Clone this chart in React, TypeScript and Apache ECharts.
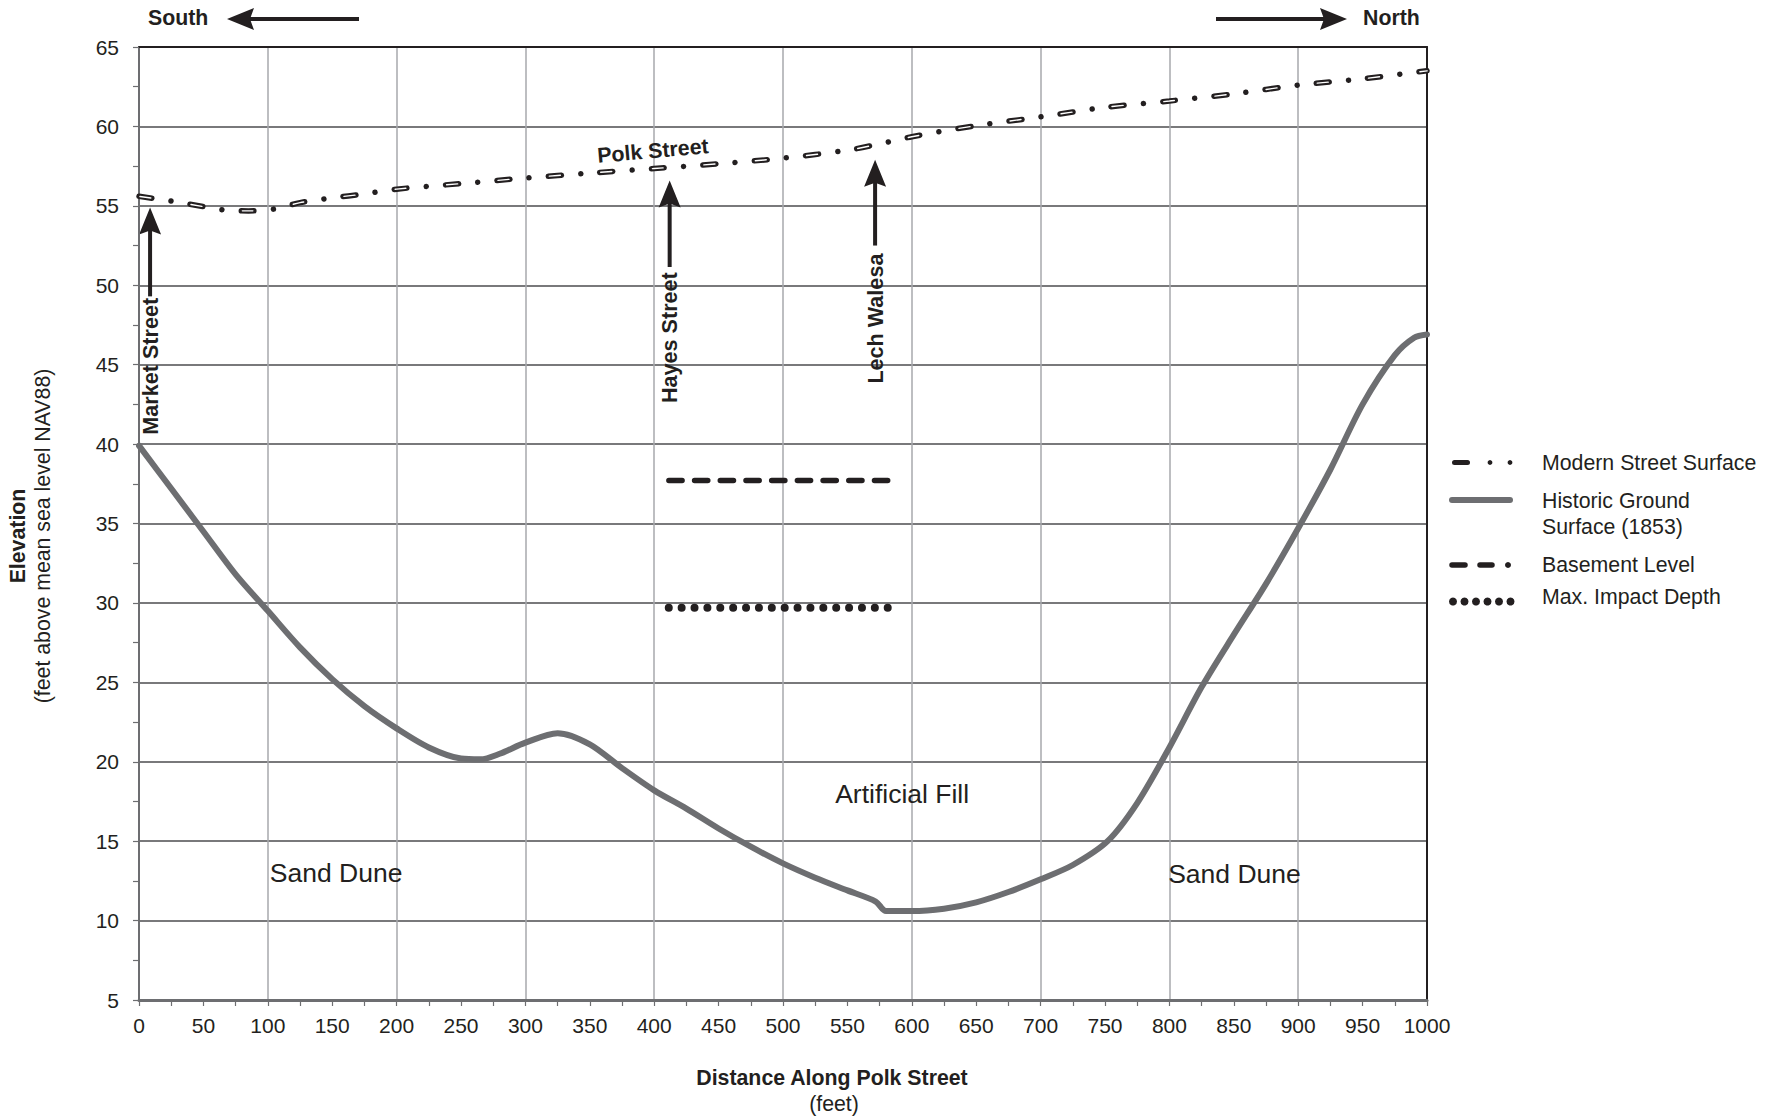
import React, { useEffect, useRef } from 'react';
import * as echarts from 'echarts';

// ---------- data ----------
const historicX = [0, 25, 50, 75, 100, 125, 150, 175, 200, 225, 250, 265, 280, 300, 325, 350, 375, 400, 425, 450, 475, 500, 525, 550, 572, 580, 600, 625, 650, 675, 700, 725, 752, 775, 800, 825, 850, 875, 900, 925, 950, 975, 990, 1000];
const historicY = [39.9, 37.2, 34.5, 31.8, 29.5, 27.2, 25.2, 23.5, 22.1, 20.9, 20.2, 20.15, 20.5, 21.2, 21.8, 21.1, 19.6, 18.2, 17.05, 15.8, 14.65, 13.6, 12.7, 11.9, 11.2, 10.6, 10.6, 10.75, 11.15, 11.8, 12.6, 13.5, 15.0, 17.4, 20.9, 24.7, 28.0, 31.2, 34.7, 38.4, 42.5, 45.6, 46.7, 46.9];

const streetX = [0, 25, 50, 65, 85, 105, 125, 150, 175, 200, 250, 300, 350, 400, 450, 500, 550, 575, 600, 650, 700, 750, 800, 850, 900, 950, 1000];
const streetY = [55.6, 55.3, 54.95, 54.75, 54.68, 54.8, 55.2, 55.5, 55.75, 56.05, 56.4, 56.75, 57.06, 57.35, 57.65, 58.0, 58.5, 58.9, 59.35, 60.05, 60.6, 61.2, 61.6, 62.05, 62.6, 63.0, 63.5];

const basementX = [411.4, 581.5];
const basementLevel = 37.7;
const impactX = [411.3, 581.4];
const impactDepth = 29.7;

const crossStreets = ['Market Street', 'Hayes Street', 'Lech Walesa'];
const crossStreetX = [8.6, 412, 571.5];
const arrowTipY = [54.9, 56.6, 57.9];
const arrowBaseY = [49.3, 51.15, 52.5];
const crossLabelY = [44.9, 46.7, 47.9];

const regionLabels = ['Sand Dune', 'Artificial Fill', 'Sand Dune'];
const regionX = [153, 592.5, 850.5];
const regionY = [13.0, 18.0, 12.95];

const streetLabel = 'Polk Street';
const streetLabelPos = [399, 58.45];

const legendLabels = ['Modern Street Surface', 'Historic Ground\nSurface (1853)', 'Basement Level', 'Max. Impact Depth'];

const FONT = '"Liberation Sans", Arial, Helvetica, sans-serif';
const INK = '#231f20';
const GROUND = '#6d6e71';
const FS = 21.3;

function upArrow(x: number, yTip: number, yBase: number) {
  return [
    { type: 'line', shape: { x1: x, y1: yTip + 20, x2: x, y2: yBase }, style: { stroke: INK, lineWidth: 4 } },
    { type: 'polygon', shape: { points: [[x, yTip], [x - 11, yTip + 27], [x, yTip + 23], [x + 11, yTip + 27]] }, style: { fill: INK } },
  ];
}

function hArrow(xTail: number, xTip: number, y: number) {
  const d = xTip > xTail ? 1 : -1;
  return [
    { type: 'line', shape: { x1: xTail, y1: y, x2: xTip - d * 20, y2: y }, style: { stroke: INK, lineWidth: 4 } },
    { type: 'polygon', shape: { points: [[xTip, y], [xTip - d * 27, y - 11], [xTip - d * 23, y], [xTip - d * 27, y + 11]] }, style: { fill: INK } },
  ];
}

function txt(x: number, y: number, text: string, size: number, bold: boolean, rotation = 0, align = 'center', lineHeight?: number) {
  return {
    type: 'text',
    x,
    y,
    rotation,
    style: {
      text,
      fontFamily: FONT,
      fontSize: size,
      fontWeight: bold ? 'bold' : 'normal',
      fill: INK,
      align,
      verticalAlign: 'middle',
      lineHeight: lineHeight || size * 1.2,
    },
  };
}

export default function App() {
  const ref = useRef<HTMLDivElement>(null);

  useEffect(() => {
    if (!ref.current) return;
    const chart = echarts.init(ref.current, undefined, { renderer: 'svg' });

    const tickStyle = { color: GROUND, width: 1.2 };
    const option: any = {
      animation: false,
      backgroundColor: '#ffffff',
      textStyle: { fontFamily: FONT, color: INK },
      grid: { left: 139, top: 47, width: 1288, height: 953, containLabel: false },
      xAxis: [
        {
          type: 'value', min: 0, max: 1000, interval: 50, position: 'bottom',
          axisLine: { show: true, onZero: false, lineStyle: { color: GROUND, width: 3 } },
          axisTick: { show: true, length: 6, lineStyle: tickStyle },
          minorTick: { show: true, splitNumber: 2, length: 6, lineStyle: tickStyle },
          axisLabel: { fontSize: 21, color: INK, margin: 15, fontFamily: FONT, formatter: (v: number) => String(v) },
          splitLine: { show: false },
          minorSplitLine: { show: false },
        },
        {
          type: 'value', min: 0, max: 1000, interval: 100, position: 'top',
          axisLine: { show: true, onZero: false, lineStyle: { color: INK, width: 2 } },
          axisTick: { show: false },
          axisLabel: { show: false },
          splitLine: { show: true, lineStyle: { color: '#a7a9ac', width: 1.5 } },
        },
      ],
      yAxis: [
        {
          type: 'value', min: 5, max: 65, interval: 5, position: 'left',
          axisLine: { show: true, onZero: false, lineStyle: { color: GROUND, width: 2 } },
          axisTick: { show: true, length: 6, lineStyle: tickStyle },
          minorTick: { show: true, splitNumber: 2, length: 6, lineStyle: tickStyle },
          axisLabel: { fontSize: 21, color: INK, margin: 20, fontFamily: FONT, formatter: (v: number) => String(v) },
          splitLine: { show: true, lineStyle: { color: '#4d4d4f', width: 1.5 } },
        },
        {
          type: 'value', min: 5, max: 65, interval: 5, position: 'right',
          axisLine: { show: true, onZero: false, lineStyle: { color: INK, width: 2 } },
          axisTick: { show: false },
          axisLabel: { show: false },
          splitLine: { show: false },
        },
      ],
      series: [
        {
          name: 'Historic Ground Surface (1853)', type: 'line', silent: true,
          data: historicX.map((x, i) => [x, historicY[i]]),
          smooth: 0.3, symbol: 'none', z: 3,
          lineStyle: { color: GROUND, width: 6, cap: 'round', join: 'round' },
        },
        {
          name: 'Modern Street Surface', type: 'line', silent: true,
          data: streetX.map((x, i) => [x, streetY[i]]),
          smooth: 0.3, symbol: 'none', z: 4,
          lineStyle: { color: INK, width: 5.5, type: [13, 19.3, 0.01, 19.3], cap: 'round' },
        },
        {
          name: 'Modern Street Surface inner', type: 'line', silent: true,
          data: streetX.map((x, i) => [x, streetY[i]]),
          smooth: 0.3, symbol: 'none', z: 5,
          lineStyle: { color: '#ffffff', width: 1.4, type: [11, 40.61], dashOffset: -1, cap: 'round' },
        },
        {
          name: 'Basement Level', type: 'line', silent: true,
          data: basementX.map((x) => [x, basementLevel]),
          symbol: 'none', z: 4,
          lineStyle: { color: INK, width: 5.5, type: [13.2, 12.5], cap: 'round' },
        },
        {
          name: 'Max. Impact Depth', type: 'line', silent: true,
          data: impactX.map((x) => [x, impactDepth]),
          symbol: 'none', z: 4,
          lineStyle: { color: INK, width: 8, type: [0.01, 12.87], cap: 'round' },
        },
      ],
    };
    chart.setOption(option);

    const P = (x: number, y: number) => chart.convertToPixel({ xAxisIndex: 0, yAxisIndex: 0 }, [x, y]) as number[];

    const g: any[] = [];
    // cross street arrows & labels
    crossStreets.forEach((name, i) => {
      const tip = P(crossStreetX[i], arrowTipY[i]);
      const base = P(crossStreetX[i], arrowBaseY[i]);
      g.push(...upArrow(tip[0], tip[1], base[1]));
      const lp = P(crossStreetX[i], crossLabelY[i]);
      g.push(txt(lp[0], lp[1], name, 21.6, true, Math.PI / 2));
    });
    // street label
    const sp = P(streetLabelPos[0], streetLabelPos[1]);
    g.push(txt(sp[0], sp[1], streetLabel, 21.4, true, (5 * Math.PI) / 180));
    // region labels
    regionLabels.forEach((name, i) => {
      const p = P(regionX[i], regionY[i]);
      g.push(txt(p[0], p[1], name, 26.5, false));
    });
    // South / North
    g.push(txt(148, 18, 'South', FS, true, 0, 'left'));
    g.push(...hArrow(359, 227, 19));
    g.push(...hArrow(1216, 1347, 19));
    g.push(txt(1363, 18, 'North', FS, true, 0, 'left'));
    // axis titles
    g.push(txt(832, 1078, 'Distance Along Polk Street', FS, true));
    g.push(txt(834, 1104, '(feet)', FS, false));
    g.push(txt(18, 536, 'Elevation', FS, true, Math.PI / 2));
    g.push(txt(43, 536, '(feet above mean sea level NAV88)', FS, false, Math.PI / 2));

    // legend
    const lx = 1542;
    // row 1: modern street surface
    g.push({ type: 'line', shape: { x1: 1454.5, y1: 462.5, x2: 1467.5, y2: 462.5 }, style: { stroke: INK, lineWidth: 5, lineCap: 'round' } });
    g.push({ type: 'circle', shape: { cx: 1490, cy: 462.5, r: 2.4 }, style: { fill: INK } });
    g.push({ type: 'circle', shape: { cx: 1510, cy: 462.5, r: 2.4 }, style: { fill: INK } });
    g.push(txt(lx, 462.5, legendLabels[0], FS, false, 0, 'left'));
    // row 2: historic
    g.push({ type: 'line', shape: { x1: 1452, y1: 500, x2: 1510, y2: 500 }, style: { stroke: GROUND, lineWidth: 6, lineCap: 'round' } });
    g.push(txt(lx, 513.8, legendLabels[1], FS, false, 0, 'left', 25.5));
    // row 3: basement
    g.push({ type: 'line', shape: { x1: 1452, y1: 565, x2: 1465, y2: 565 }, style: { stroke: INK, lineWidth: 5.5, lineCap: 'round' } });
    g.push({ type: 'line', shape: { x1: 1480, y1: 565, x2: 1492, y2: 565 }, style: { stroke: INK, lineWidth: 5.5, lineCap: 'round' } });
    g.push({ type: 'circle', shape: { cx: 1508, cy: 565, r: 3 }, style: { fill: INK } });
    g.push(txt(lx, 565, legendLabels[2], FS, false, 0, 'left'));
    // row 4: impact depth
    [1453, 1464.5, 1476, 1487.5, 1499, 1510.5].forEach((cx) => {
      g.push({ type: 'circle', shape: { cx, cy: 601.5, r: 4 }, style: { fill: INK } });
    });
    g.push(txt(lx, 597, legendLabels[3], FS, false, 0, 'left'));

    chart.setOption({ graphic: { elements: g } });

    return () => chart.dispose();
  }, []);

  return <div ref={ref} style={{ position: 'absolute', left: 0, top: 0, width: 1781, height: 1118, background: '#fff' }} />;
}
